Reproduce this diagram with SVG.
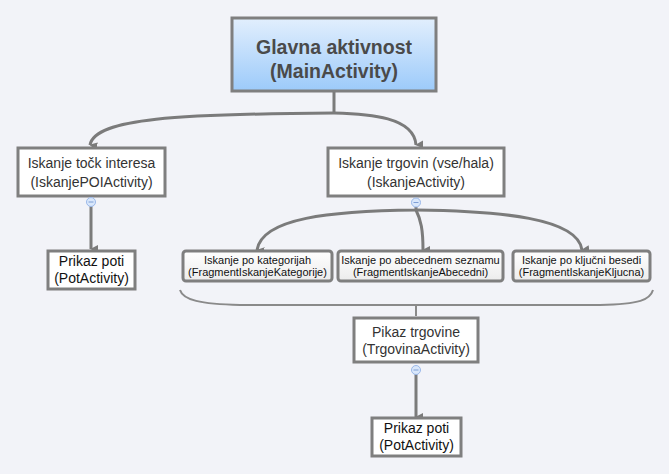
<svg xmlns="http://www.w3.org/2000/svg" width="669" height="474" viewBox="0 0 669 474">
<defs>
<linearGradient id="gMain" x1="0" y1="0" x2="0" y2="1">
<stop offset="0" stop-color="#e2effd"/>
<stop offset="1" stop-color="#9ccafa"/>
</linearGradient>
<linearGradient id="gSub" x1="0" y1="0" x2="0" y2="1">
<stop offset="0" stop-color="#ffffff"/>
<stop offset="1" stop-color="#ececec"/>
</linearGradient>
<marker id="arr" viewBox="0 0 10 10" refX="5" refY="9" markerWidth="9" markerHeight="8" markerUnits="userSpaceOnUse" orient="auto-start-reverse">
<path d="M0,0 L10,0 L5,10 Z" fill="#7b7b7b"/>
</marker>
<style>
.box{fill:#ffffff;stroke:#7f7f7f;stroke-width:3}
.sub{fill:url(#gSub);stroke:#7f7f7f;stroke-width:3}
.conn{fill:none;stroke:#7b7b7b;stroke-width:3}
.thin{fill:none;stroke:#8a8a8a;stroke-width:2}
.t{font-family:"Liberation Sans",Arial,sans-serif;font-size:14px;fill:#333333;text-anchor:middle}
.tb{font-family:"Liberation Sans",Arial,sans-serif;font-size:14px;fill:#111111;text-anchor:middle}
.ts{font-family:"Liberation Sans",Arial,sans-serif;font-size:11px;fill:#111111;text-anchor:middle}
.tm{font-family:"Liberation Sans",Arial,sans-serif;font-size:19.5px;font-weight:bold;fill:#4a4a4a;text-anchor:middle}
.col{fill:#d9e7fb;stroke:#9ab8ea;stroke-width:1}
.minus{stroke:#7f9fd6;stroke-width:1}
</style>
</defs>
<rect width="669" height="474" fill="#f2f3f8"/>
<g id="connectors">
<path class="conn" d="M334,92 L334,113"/>
<path class="conn" d="M334,113 C180,114 95,118 90,145" marker-end="url(#arr)"/>
<path class="conn" d="M334,113 C370,114 414,117 416,145" marker-end="url(#arr)"/>
<path class="conn" d="M91,206 L91,249" marker-end="url(#arr)"/>
<path class="conn" d="M416,207 L416,210 C330,211 262,218 257,250" marker-end="url(#arr)"/>
<path class="conn" d="M416,210 C421,220 423,230 423,250" marker-end="url(#arr)"/>
<path class="conn" d="M416,210 C500,211 578,218 582,250" marker-end="url(#arr)"/>
<path class="thin" d="M180,290 C183,300 200,304 240,305 L600,305 C640,304 650,300 653,290"/>
<path class="thin" d="M416,305 L416,316"/>
<path class="conn" d="M416,374 L416,417" marker-end="url(#arr)"/>
</g>
<g id="main">
<rect x="232" y="18" width="204" height="73" fill="url(#gMain)" stroke="#7f7f7f" stroke-width="3"/>
<text class="tm" x="334" y="54">Glavna aktivnost</text>
<text class="tm" x="334" y="78">(MainActivity)</text>
</g>
<g id="iskanjePOI">
<rect class="box" x="18" y="148" width="147" height="48"/>
<text class="t" x="91.5" y="168">Iskanje točk interesa</text>
<text class="t" x="91.5" y="187">(IskanjePOIActivity)</text>
</g>
<g id="iskanje">
<rect class="box" x="328" y="148" width="176" height="48"/>
<text class="t" x="416" y="168">Iskanje trgovin (vse/hala)</text>
<text class="t" x="416" y="187">(IskanjeActivity)</text>
</g>
<g id="collapse1">
<circle class="col" cx="91" cy="202" r="4.5"/>
<line class="minus" x1="88.5" y1="202" x2="93.5" y2="202"/>
</g>
<g id="collapse2">
<circle class="col" cx="416" cy="202.5" r="4.5"/>
<line class="minus" x1="413.5" y1="202.5" x2="418.5" y2="202.5"/>
</g>
<g id="potActivity1">
<rect class="box" x="48" y="251" width="87" height="38"/>
<text class="tb" x="91.5" y="266">Prikaz poti</text>
<text class="tb" x="91.5" y="283">(PotActivity)</text>
</g>
<g id="fragKategorije">
<rect class="sub" x="183" y="251" width="149" height="30" rx="3"/>
<text class="ts" x="257.5" y="264">Iskanje po kategorijah</text>
<text class="ts" x="257.5" y="276">(FragmentIskanjeKategorije)</text>
</g>
<g id="fragAbecedni">
<rect class="sub" x="338" y="251" width="165" height="30" rx="3"/>
<text class="ts" x="420.5" y="264">Iskanje po abecednem seznamu</text>
<text class="ts" x="420.5" y="276">(FragmentIskanjeAbecedni)</text>
</g>
<g id="fragKljucna">
<rect class="sub" x="513" y="251" width="137" height="30" rx="3"/>
<text class="ts" x="581.5" y="264">Iskanje po ključni besedi</text>
<text class="ts" x="581.5" y="276">(FragmentIskanjeKljucna)</text>
</g>
<g id="trgovina">
<rect class="box" x="354" y="318" width="124" height="44"/>
<text class="t" x="416" y="337">Pikaz trgovine</text>
<text class="t" x="416" y="354">(TrgovinaActivity)</text>
</g>
<g id="collapse3">
<circle class="col" cx="416" cy="370" r="4.5"/>
<line class="minus" x1="413.5" y1="370" x2="418.5" y2="370"/>
</g>
<g id="potActivity2">
<rect class="box" x="372" y="418" width="89" height="38"/>
<text class="tb" x="416.5" y="433">Prikaz poti</text>
<text class="tb" x="416.5" y="450">(PotActivity)</text>
</g>
</svg>
